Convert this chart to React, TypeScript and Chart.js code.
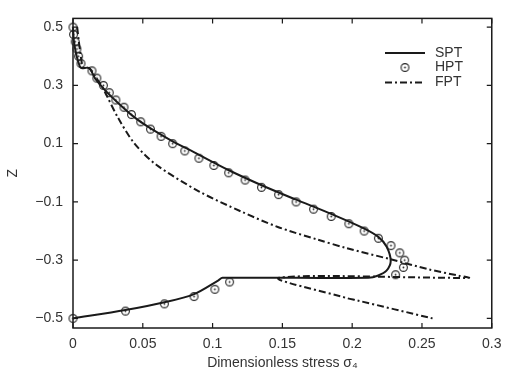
import React, { useEffect, useRef } from 'react';
import { Chart, registerables } from 'chart.js';

Chart.register(...registerables);

// Axis ticks
const xTicks = [0, 0.05, 0.1, 0.15, 0.2, 0.25, 0.3];
const zTicks = [-0.5, -0.3, -0.1, 0.1, 0.3, 0.5];

// SPT (solid)
const sptX = [0, 0.0006, 0.002, 0.0038, 0.0057, 0.0115, 0.0158, 0.0229, 0.0323, 0.0441, 0.0559, 0.0701, 0.0866, 0.1113, 0.1347, 0.1594, 0.1849, 0.2083, 0.2187, 0.2246, 0.2276, 0.2246, 0.2187, 0.2116, 0.1071, 0.1042, 0.0868, 0.0655, 0.0375, 0];
const sptZ = [0.5, 0.4536, 0.4138, 0.3807, 0.3598, 0.3598, 0.3243, 0.2839, 0.2398, 0.1901, 0.1513, 0.1115, 0.0708, 0.0095, -0.0419, -0.0916, -0.1413, -0.191, -0.2202, -0.2534, -0.3031, -0.3363, -0.3528, -0.3608, -0.3608, -0.3694, -0.4165, -0.4447, -0.4712, -0.5];

// HPT (circle markers)
const hptX = [0, 0.0004, 0.0016, 0.0028, 0.004, 0.0057, 0.0136, 0.0171, 0.0218, 0.026, 0.0307, 0.0365, 0.0419, 0.0485, 0.0555, 0.0631, 0.0714, 0.0801, 0.0902, 0.1009, 0.1115, 0.1233, 0.135, 0.1473, 0.1598, 0.1723, 0.185, 0.1976, 0.2086, 0.2188, 0.2278, 0.2341, 0.2376, 0.2367, 0.2311, 0.1122, 0.1016, 0.0867, 0.0655, 0.0376, 0];
const hptZ = [0.5, 0.475, 0.45, 0.425, 0.4, 0.375, 0.35, 0.325, 0.3, 0.275, 0.25, 0.225, 0.2, 0.175, 0.15, 0.125, 0.1, 0.075, 0.05, 0.025, 0, -0.025, -0.05, -0.075, -0.1, -0.125, -0.15, -0.175, -0.2, -0.225, -0.25, -0.275, -0.3, -0.325, -0.35, -0.375, -0.4, -0.425, -0.45, -0.475, -0.5];

// FPT (dash-dot)
const fptX = [0.003, 0.0041, 0.0052, 0.0062, 0.0073, 0.0115, 0.0158, 0.0205, 0.0241, 0.0323, 0.0441, 0.0594, 0.0901, 0.1205, 0.1467, 0.175, 0.1962, 0.2276, 0.2552, 0.2764, 0.2835, 0.1477, 0.1962, 0.2033, 0.2576];
const fptZ = [0.5, 0.4536, 0.4138, 0.3807, 0.3608, 0.3591, 0.331, 0.2988, 0.2657, 0.1884, 0.1, 0.0283, -0.0635, -0.1331, -0.1861, -0.2292, -0.259, -0.2971, -0.332, -0.3535, -0.3608, -0.3608, -0.4304, -0.438, -0.5];

const seriesNames = ['SPT', 'HPT', 'FPT'];
const xTitle = 'Dimensionless stress σ₄';
const yTitle = 'Z';

const INK = '#1a1a1a';
const TEXT = '#333333';
const FONT = "'Liberation Sans', Arial, sans-serif";
const DASH = [7, 3, 2, 3];

function fmt(v: number): string {
  return v < 0 ? '\u2212' + String(-v) : String(v);
}

function makeMarker(): HTMLCanvasElement {
  const c = document.createElement('canvas');
  c.width = 11;
  c.height = 11;
  const g = c.getContext('2d')!;
  g.strokeStyle = '#222';
  g.lineWidth = 1.1;
  g.beginPath();
  g.arc(5.5, 5.5, 3.9, 0, Math.PI * 2);
  g.stroke();
  g.fillStyle = '#222';
  g.beginPath();
  g.arc(5.5, 5.5, 0.9, 0, Math.PI * 2);
  g.fill();
  return c;
}

export default function App() {
  const ref = useRef<HTMLCanvasElement>(null);

  useEffect(() => {
    if (!ref.current) return;
    const marker = makeMarker();
    const pts = (xs: number[], zs: number[]) => xs.map((x, i) => ({ x, y: zs[i] }));

    const framePlugin = {
      id: 'frameTicks',
      beforeDatasetsDraw(chart: any) {
        const { ctx, chartArea: a, scales } = chart;
        ctx.save();
        ctx.strokeStyle = INK;
        ctx.lineWidth = 1.5;
        ctx.strokeRect(a.left, a.top, a.right - a.left, a.bottom - a.top);
        ctx.lineWidth = 1.2;
        const tl = 5;
        ctx.beginPath();
        xTicks.forEach((v) => {
          const px = scales.x.getPixelForValue(v);
          ctx.moveTo(px, a.bottom);
          ctx.lineTo(px, a.bottom - tl);
          ctx.moveTo(px, a.top);
          ctx.lineTo(px, a.top + tl);
        });
        zTicks.forEach((v) => {
          const py = scales.y.getPixelForValue(v);
          ctx.moveTo(a.left, py);
          ctx.lineTo(a.left + tl, py);
          ctx.moveTo(a.right, py);
          ctx.lineTo(a.right - tl, py);
        });
        ctx.stroke();
        ctx.restore();
      },
      afterDraw(chart: any) {
        const { ctx } = chart;
        ctx.save();
        const x0 = 385, x1 = 425, tx = 435;
        const rows = [53, 67.5, 82.5];
        ctx.font = `14px ${FONT}`;
        ctx.fillStyle = TEXT;
        ctx.textBaseline = 'middle';
        ctx.textAlign = 'left';
        ctx.strokeStyle = INK;
        ctx.lineWidth = 2;
        ctx.beginPath();
        ctx.moveTo(x0, rows[0]);
        ctx.lineTo(x1, rows[0]);
        ctx.stroke();
        ctx.drawImage(marker, (x0 + x1) / 2 - 5.5, rows[1] - 5.5);
        ctx.setLineDash(DASH);
        ctx.beginPath();
        ctx.moveTo(x0, rows[2]);
        ctx.lineTo(x1, rows[2]);
        ctx.stroke();
        ctx.setLineDash([]);
        seriesNames.forEach((n, i) => ctx.fillText(n, tx, rows[i]));
        ctx.restore();
      },
    };

    const chart = new Chart(ref.current, {
      type: 'scatter',
      data: {
        datasets: [
          {
            label: seriesNames[0],
            data: pts(sptX, sptZ),
            showLine: true,
            borderColor: INK,
            borderWidth: 2,
            pointRadius: 0,
            tension: 0.3,
            clip: false,
          } as any,
          {
            label: seriesNames[2],
            data: pts(fptX, fptZ),
            showLine: true,
            borderColor: INK,
            borderWidth: 2,
            borderDash: DASH,
            pointRadius: 0,
            tension: 0.3,
            clip: false,
          } as any,
          {
            label: seriesNames[1],
            data: pts(hptX, hptZ),
            showLine: false,
            pointStyle: marker,
            pointRadius: 4,
            clip: false,
          } as any,
        ],
      },
      options: {
        animation: false,
        responsive: false,
        events: [],
        layout: { padding: { left: 0, top: 7, right: 12, bottom: 0 } },
        plugins: { legend: { display: false }, tooltip: { enabled: false } },
        scales: {
          x: {
            type: 'linear',
            min: 0,
            max: 0.3,
            afterBuildTicks: (s: any) => {
              s.ticks = xTicks.map((v) => ({ value: v }));
            },
            afterFit: (s: any) => {
              s.height = 47;
            },
            grid: { display: false, drawTicks: false },
            border: { display: false },
            ticks: {
              padding: 7.5,
              color: TEXT,
              font: { family: FONT, size: 14 },
              callback: (v: any) => fmt(v),
              maxRotation: 0,
              autoSkip: false,
            },
            title: {
              display: true,
              text: xTitle,
              color: TEXT,
              font: { family: FONT, size: 14 },
              padding: { top: 0, bottom: 3.6 },
            },
          },
          y: {
            type: 'linear',
            min: -0.533,
            max: 0.53,
            afterBuildTicks: (s: any) => {
              s.ticks = zTicks.map((v) => ({ value: v }));
            },
            afterFit: (s: any) => {
              s.width = 73;
            },
            grid: { display: false, drawTicks: false },
            border: { display: false },
            ticks: {
              padding: 10,
              color: TEXT,
              font: { family: FONT, size: 14 },
              callback: (v: any) => fmt(v),
              autoSkip: false,
            },
            title: {
              display: true,
              text: yTitle,
              color: TEXT,
              font: { family: FONT, size: 14 },
              padding: { top: 4.6, bottom: 0 },
            },
          },
        },
      },
      plugins: [framePlugin],
    });
    return () => chart.destroy();
  }, []);

  return (
    <div style={{ position: 'fixed', left: 0, top: 0, width: 509, height: 375, background: '#fff' }}>
      <canvas ref={ref} width={509} height={375} />
    </div>
  );
}
